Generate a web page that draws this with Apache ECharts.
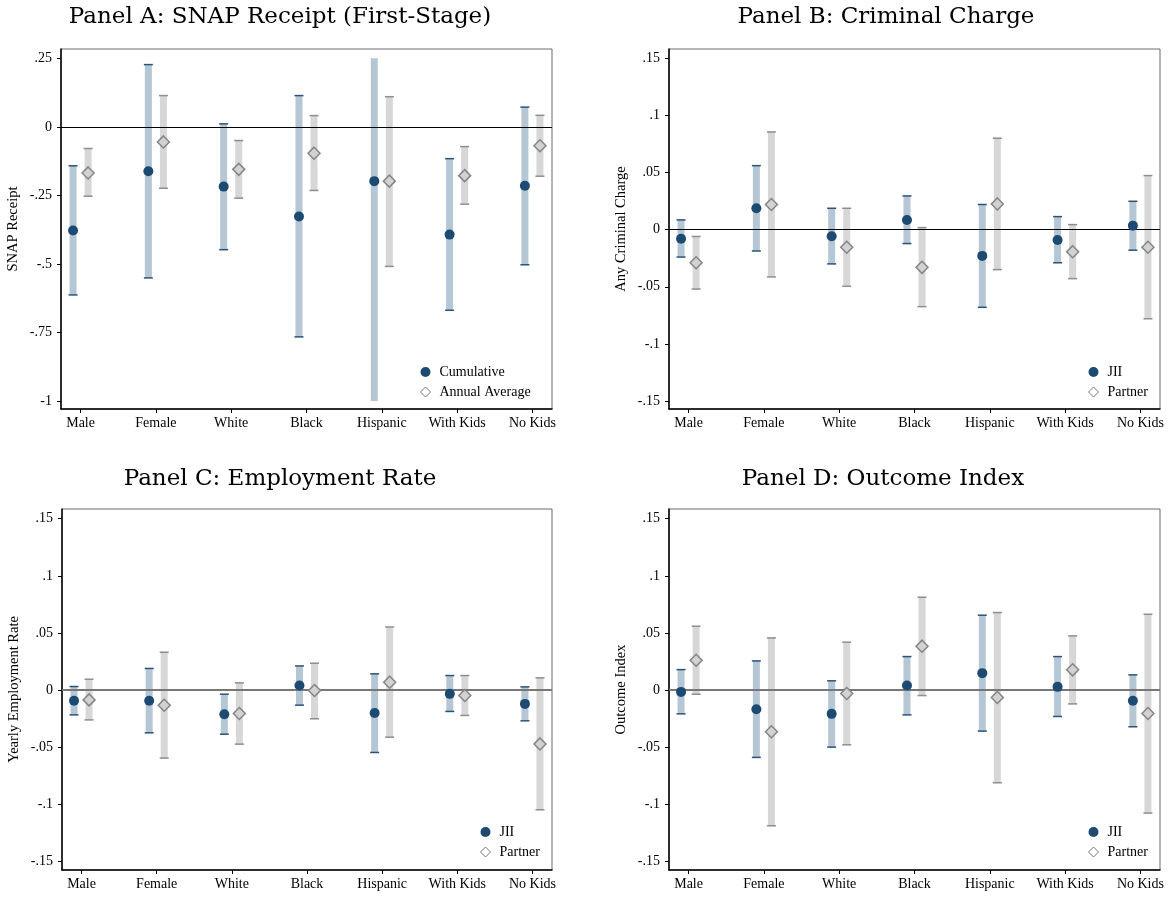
<!DOCTYPE html>
<html>
<head>
<meta charset="utf-8">
<script src="https://cdn.jsdelivr.net/npm/echarts@6/dist/echarts.min.js"></script>
<style>
html,body{margin:0;padding:0;background:#fff;}
#chart{width:1170px;height:898px;}
</style>
</head>
<body>
<div id="chart"></div>
<script>
// ---------- DATA ----------
const categories = ['Male', 'Female', 'White', 'Black', 'Hispanic', 'With Kids', 'No Kids'];

const panelTitles = ['Panel A: SNAP Receipt (First-Stage)', 'Panel B: Criminal Charge', 'Panel C: Employment Rate', 'Panel D: Outcome Index'];
const yAxisNames = ['SNAP Receipt', 'Any Criminal Charge', 'Yearly Employment Rate', 'Outcome Index'];
const legendNamesA = ['Cumulative', 'Annual Average'];
const legendNamesBCD = ['JII', 'Partner'];

const ticksA = [-1, -0.75, -0.5, -0.25, 0, 0.25];
const ticksBCD = [-0.15, -0.1, -0.05, 0, 0.05, 0.1, 0.15];

// Panel A: SNAP receipt
const snapCumEst = [-0.378, -0.162, -0.218, -0.327, -0.198, -0.393, -0.215];
const snapCumLo  = [-0.613, -0.551, -0.448, -0.766, -1.0, -0.669, -0.503];
const snapCumHi  = [-0.142, 0.227, 0.011, 0.114, 0.25, -0.116, 0.072];
const snapAnnEst = [-0.168, -0.055, -0.155, -0.096, -0.198, -0.178, -0.069];
const snapAnnLo  = [-0.253, -0.224, -0.260, -0.232, -0.509, -0.282, -0.180];
const snapAnnHi  = [-0.079, 0.114, -0.050, 0.041, 0.110, -0.072, 0.042];

// Panel B: criminal charge
const crimJiiEst  = [-0.008, 0.0187, -0.0058, 0.0085, -0.023, -0.009, 0.0035];
const crimJiiLo   = [-0.024, -0.0187, -0.030, -0.0122, -0.068, -0.029, -0.018];
const crimJiiHi   = [0.0085, 0.056, 0.0187, 0.0295, 0.022, 0.0114, 0.0248];
const crimPartEst = [-0.029, 0.022, -0.0154, -0.033, 0.0225, -0.0193, -0.0154];
const crimPartLo  = [-0.052, -0.0414, -0.0496, -0.0674, -0.035, -0.0429, -0.078];
const crimPartHi  = [-0.006, 0.0855, 0.0187, 0.0018, 0.080, 0.0044, 0.0473];

// Panel C: employment rate
const empJiiEst  = [-0.0093, -0.0093, -0.021, 0.0041, -0.020, -0.0032, -0.012];
const empJiiLo   = [-0.0216, -0.0373, -0.0385, -0.0131, -0.0545, -0.0186, -0.0268];
const empJiiHi   = [0.0032, 0.019, -0.0035, 0.0212, 0.0143, 0.0128, 0.0029];
const empPartEst = [-0.0085, -0.0131, -0.0204, -0.0003, 0.007, -0.0047, -0.047];
const empPartLo  = [-0.026, -0.0594, -0.0472, -0.025, -0.0411, -0.0221, -0.1046];
const empPartHi  = [0.0096, 0.0332, 0.0064, 0.0236, 0.0553, 0.0128, 0.0108];

// Panel D: outcome index
const idxJiiEst  = [-0.0015, -0.0166, -0.0207, 0.0041, 0.0149, 0.0029, -0.0093];
const idxJiiLo   = [-0.0207, -0.0588, -0.0498, -0.0216, -0.0358, -0.023, -0.032];
const idxJiiHi   = [0.018, 0.0256, 0.0082, 0.0294, 0.0656, 0.0294, 0.0134];
const idxPartEst = [0.0262, -0.0364, -0.0029, 0.0385, -0.0064, 0.0178, -0.0204];
const idxPartLo  = [-0.0035, -0.1186, -0.0478, -0.0047, -0.081, -0.012, -0.1075];
const idxPartHi  = [0.056, 0.0457, 0.042, 0.0813, 0.0679, 0.0475, 0.0664];

// ---------- STYLE / LAYOUT ----------
const SERIF = '"Liberation Serif", "Times New Roman", serif';
const TITLE_FONT = '"DejaVu Serif", serif';
const C_DOT = '#1d4a72', C_BAR1 = '#b5c6d4', C_CAP1 = '#2b5379';
const C_BAR2 = '#d7d7d7', C_CAP2 = '#8e8e8e', C_DIA = '#d2d2d2', C_DIA_B = '#858585';

const grids = [
  {left: 61, top: 49, width: 491, height: 360},
  {left: 669, top: 49, width: 491, height: 360},
  {left: 62, top: 509, width: 490, height: 361},
  {left: 669, top: 509, width: 491, height: 361}
];
const yRanges = [[-1.029, 0.2839], [-0.157, 0.1581], [-0.1573, 0.1585], [-0.1573, 0.1585]];
const zeroStyles = [
  {color: '#000', width: 1},
  {color: '#000', width: 1},
  {color: '#777', width: 2},
  {color: '#777', width: 2}
];
const clipRanges = [[-1, 0.25], null, null, null];
const OFF = 0.1;

const panels = [
  {names: legendNamesA, a: [snapCumEst, snapCumLo, snapCumHi], b: [snapAnnEst, snapAnnLo, snapAnnHi]},
  {names: legendNamesBCD, a: [crimJiiEst, crimJiiLo, crimJiiHi], b: [crimPartEst, crimPartLo, crimPartHi]},
  {names: legendNamesBCD, a: [empJiiEst, empJiiLo, empJiiHi], b: [empPartEst, empPartLo, empPartHi]},
  {names: legendNamesBCD, a: [idxJiiEst, idxJiiLo, idxJiiHi], b: [idxPartEst, idxPartLo, idxPartHi]}
];

function fmt(v) {
  if (v === 0) return '0';
  let s = String(+v.toFixed(4));
  return s.replace('0.', '.');
}

function errRender(barColor, capColor, clip) {
  return function (params, api) {
    const x = api.value(0), lo = api.value(1), hi = api.value(2);
    const pLo = api.coord([x, lo]), pHi = api.coord([x, hi]);
    const bw = 7, cw = 9;
    const children = [{
      type: 'rect',
      shape: {x: pLo[0] - bw / 2, y: pHi[1], width: bw, height: pLo[1] - pHi[1]},
      style: {fill: barColor}
    }];
    if (!(clip && hi >= clip[1])) {
      children.push({type: 'line', shape: {x1: pHi[0] - cw / 2, y1: pHi[1], x2: pHi[0] + cw / 2, y2: pHi[1]},
        style: {stroke: capColor, lineWidth: 1.5}});
    }
    if (!(clip && lo <= clip[0])) {
      children.push({type: 'line', shape: {x1: pLo[0] - cw / 2, y1: pLo[1], x2: pLo[0] + cw / 2, y2: pLo[1]},
        style: {stroke: capColor, lineWidth: 1.5}});
    }
    return {type: 'group', children: children};
  };
}

const xAxes = [], yAxes = [], series = [], legends = [];
const legendPos = [[420, 364], [1088, 364], [480, 824], [1088, 824]];

panels.forEach(function (p, k) {
  xAxes.push({
    type: 'value', gridIndex: k, min: 0.74, max: 7.26,
    splitLine: {show: false},
    axisLine: {show: true, onZero: false, lineStyle: {color: '#000', width: 1.5}},
    axisTick: {show: true, customValues: [1, 2, 3, 4, 5, 6, 7], length: 4, lineStyle: {color: '#000'}},
    axisLabel: {customValues: [1, 2, 3, 4, 5, 6, 7], margin: 7, fontFamily: SERIF, fontSize: 14, color: '#000',
      formatter: function (v) { return categories[Math.round(v) - 1]; }}
  });
  const ticks = k === 0 ? ticksA : ticksBCD;
  yAxes.push({
    type: 'value', gridIndex: k, min: yRanges[k][0], max: yRanges[k][1],
    name: yAxisNames[k], nameLocation: 'middle', nameGap: 40,
    nameTextStyle: {fontFamily: SERIF, fontSize: 14.5, color: '#000'},
    splitLine: {show: false},
    axisLine: {show: true, onZero: false, lineStyle: {color: '#000', width: 1.5}},
    axisTick: {show: true, customValues: ticks, length: 4, lineStyle: {color: '#000'}},
    axisLabel: {customValues: ticks, margin: 9, fontFamily: SERIF, fontSize: 14, color: '#000', formatter: fmt}
  });

  const dataA = categories.map(function (c, i) { return [i + 1 - OFF, p.a[1][i], p.a[2][i]]; });
  const dataB = categories.map(function (c, i) { return [i + 1 + OFF, p.b[1][i], p.b[2][i]]; });
  series.push({
    type: 'custom', name: p.names[0] + ' CI', xAxisIndex: k, yAxisIndex: k,
    renderItem: errRender(C_BAR1, C_CAP1, clipRanges[k]), encode: {x: 0, y: [1, 2]},
    data: dataA, z: 2, clip: false,
    markLine: {silent: true, symbol: 'none', label: {show: false}, animation: false,
      lineStyle: {color: zeroStyles[k].color, width: zeroStyles[k].width, type: 'solid'},
      data: [{yAxis: 0}]}
  });
  series.push({
    type: 'custom', name: p.names[1] + ' CI', xAxisIndex: k, yAxisIndex: k,
    renderItem: errRender(C_BAR2, C_CAP2, clipRanges[k]), encode: {x: 0, y: [1, 2]},
    data: dataB, z: 2, clip: false
  });
  series.push({
    type: 'scatter', name: p.names[0], xAxisIndex: k, yAxisIndex: k,
    symbol: 'circle', symbolSize: 10, itemStyle: {color: C_DOT, opacity: 1}, z: 5,
    data: categories.map(function (c, i) { return [i + 1 - OFF, p.a[0][i]]; })
  });
  series.push({
    type: 'scatter', name: p.names[1], xAxisIndex: k, yAxisIndex: k,
    symbol: 'diamond', symbolSize: 12, itemStyle: {color: C_DIA, borderColor: C_DIA_B, borderWidth: 1.5, opacity: 1}, z: 5,
    data: categories.map(function (c, i) { return [i + 1 + OFF, p.b[0][i]]; })
  });

  legends.push({
    orient: 'vertical', left: legendPos[k][0], top: legendPos[k][1], padding: 0,
    itemWidth: 10, itemHeight: 10, itemGap: 4, selectedMode: false,
    textStyle: {fontFamily: SERIF, fontSize: 14, color: '#000', lineHeight: 16, padding: [0, 0, 0, 4]},
    data: [
      {name: p.names[0], icon: 'circle', itemStyle: {color: C_DOT}},
      {name: p.names[1], icon: 'diamond', itemStyle: {color: '#fff', borderColor: '#777', borderWidth: 1}}
    ]
  });
});

const titleCenters = [[280, 17], [886, 17], [280, 479], [883, 479]];
const graphics = panelTitles.map(function (t, k) {
  return {type: 'text', x: titleCenters[k][0], y: titleCenters[k][1], silent: true,
    style: {text: t, align: 'center', verticalAlign: 'middle', font: '23px ' + TITLE_FONT, fill: '#000'}};
});

const chart = echarts.init(document.getElementById('chart'), null, {renderer: 'canvas'});
chart.setOption({
  animation: false,
  backgroundColor: '#fff',
  grid: grids.map(function (g) { return Object.assign({show: true, borderColor: '#6a6a6a', borderWidth: 1, backgroundColor: 'transparent'}, g); }),
  xAxis: xAxes,
  yAxis: yAxes,
  legend: legends,
  graphic: graphics,
  series: series
});
</script>
</body>
</html>
